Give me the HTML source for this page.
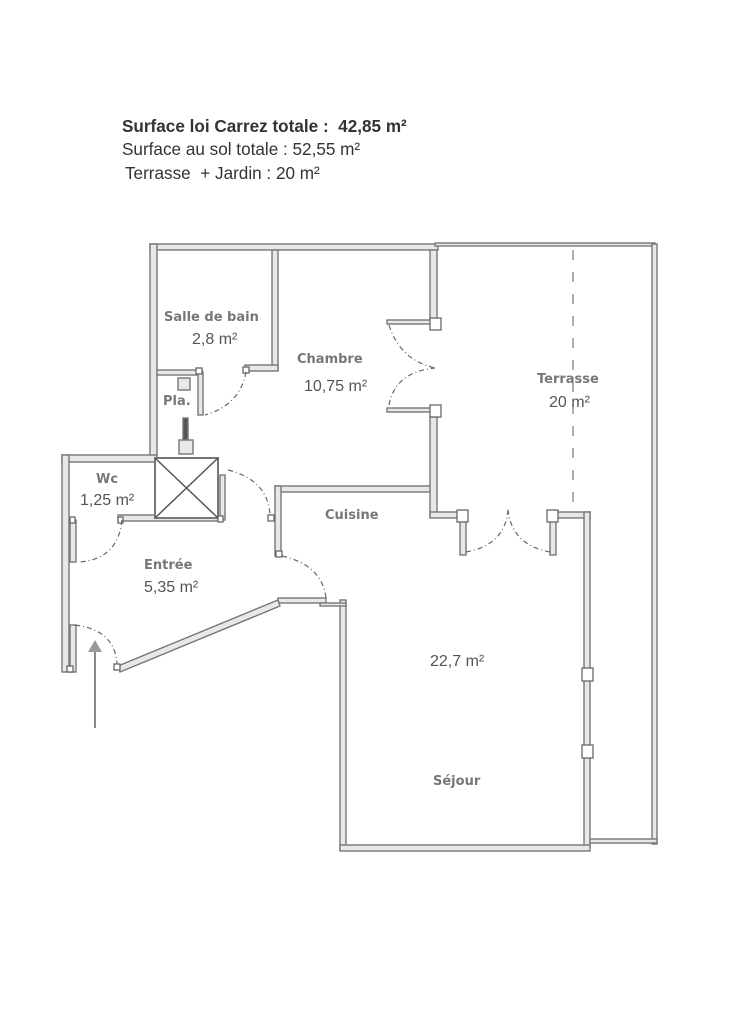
<!DOCTYPE html>
<html><head><meta charset="utf-8"><style>
html,body{margin:0;padding:0;background:#fff;width:750px;height:1032px;overflow:hidden}
svg{display:block}
.h{font-family:"Liberation Sans",sans-serif;fill:#333}
.r{font-family:"DejaVu Sans","Liberation Sans",sans-serif;font-weight:bold;fill:#777;font-size:13px}
.a{font-family:"Liberation Sans",sans-serif;fill:#555;font-size:16px}
</style></head><body>
<svg width="750" height="1032" viewBox="0 0 750 1032">
<g class="h">
<text x="122" y="132" font-size="17.5" font-weight="bold" xml:space="preserve" transform="translate(122 0) scale(0.98 1) translate(-122 0)">Surface loi Carrez totale :  42,85 m²</text>
<text x="122" y="155" font-size="17.5" transform="translate(122 0) scale(0.98 1) translate(-122 0)">Surface au sol totale : 52,55 m²</text>
<text x="125" y="179" font-size="17.5" xml:space="preserve" transform="translate(125 0) scale(0.98 1) translate(-125 0)">Terrasse  + Jardin : 20 m²</text>
</g>
<g fill="#e8e8e8" stroke="#777" stroke-width="1.4">
<rect x="150" y="244" width="288" height="6"/>
<rect x="435" y="243" width="220" height="3"/>
<rect x="150" y="244" width="7" height="216"/>
<rect x="272" y="250" width="6" height="120"/>
<rect x="245" y="365" width="33" height="6"/>
<rect x="157" y="370" width="45" height="5"/>
<rect x="198" y="372" width="5" height="43"/>
<rect x="178" y="378" width="12" height="12"/>
<rect x="183" y="418" width="5" height="22" fill="#555"/>
<rect x="179" y="440" width="14" height="14"/>
<rect x="62" y="455" width="95" height="7"/>
<rect x="62" y="455" width="7" height="217"/>
<rect x="118" y="515" width="100" height="6"/>
<rect x="155" y="458" width="63" height="60" fill="#fff" stroke-width="2"/>
<rect x="220" y="475" width="5" height="45"/>
<rect x="70" y="520" width="6" height="42"/>
<rect x="70" y="625" width="6" height="47"/>
<rect x="275" y="486" width="160" height="6"/>
<rect x="275" y="486" width="6" height="70"/>
<rect x="430" y="250" width="7" height="70"/>
<rect x="387" y="320" width="45" height="4"/>
<rect x="387" y="408" width="45" height="4"/>
<rect x="430" y="417" width="7" height="100"/>
<rect x="430" y="512" width="35" height="6"/>
<rect x="460" y="520" width="6" height="35"/>
<rect x="550" y="520" width="6" height="35"/>
<rect x="556" y="512" width="34" height="6"/>
<rect x="584" y="512" width="6" height="335"/>
<rect x="340" y="600" width="6" height="250"/>
<rect x="340" y="845" width="250" height="6"/>
<rect x="652" y="244" width="5" height="600"/>
<rect x="590" y="839" width="67" height="4"/>
<rect x="278" y="598" width="48" height="5"/>
<rect x="320" y="603" width="26" height="3"/>
<polygon points="118,666 278,600 280,606 120,672"/>
</g>
<g fill="#fff" stroke="#666" stroke-width="1.3">
<rect x="430" y="318" width="11" height="12"/><rect x="430" y="405" width="11" height="12"/>
<rect x="457" y="510" width="11" height="12"/><rect x="547" y="510" width="11" height="12"/>
<rect x="582" y="668" width="11" height="13"/><rect x="582" y="745" width="11" height="13"/>
<rect x="196" y="368" width="6" height="6"/><rect x="243" y="367" width="6" height="6"/>
<rect x="70" y="517" width="5" height="6"/><rect x="118" y="517" width="5" height="6"/>
<rect x="218" y="516" width="5" height="6"/><rect x="268" y="515" width="6" height="6"/>
<rect x="276" y="551" width="6" height="6"/><rect x="114" y="664" width="6" height="6"/>
<rect x="67" y="666" width="6" height="6"/>
</g>
<g stroke="#555" stroke-width="1.5"><line x1="155" y1="458" x2="218" y2="518"/><line x1="218" y1="458" x2="155" y2="518"/></g>
<g fill="none" stroke="#666" stroke-width="1.2" stroke-dasharray="5,3,1,3">
<path d="M246 372 Q240 405 205 415"/>
<path d="M122 520 Q118 560 78 562"/>
<path d="M228 470 Q268 480 270 515"/>
<path d="M282 556 Q322 565 326 598"/>
<path d="M75 625 Q115 630 117 664"/>
<path d="M389 325 Q400 360 435 368"/>
<path d="M389 405 Q395 372 435 368"/>
<path d="M466 552 Q505 545 508 510"/>
<path d="M550 552 Q512 545 508 510"/>
</g>
<line x1="573" y1="250" x2="573" y2="510" stroke="#777" stroke-width="1.2" stroke-dasharray="10,12"/>
<line x1="95" y1="650" x2="95" y2="728" stroke="#888" stroke-width="2"/>
<polygon points="88,652 95,640 102,652" fill="#999"/>
<text class="r" x="164" y="321">Salle de bain</text>
<text class="a" x="192" y="344">2,8 m²</text>
<text class="r" x="297" y="363">Chambre</text>
<text class="a" x="304" y="391">10,75 m²</text>
<text class="r" x="163" y="405">Pla.</text>
<text class="r" x="96" y="483">Wc</text>
<text class="a" x="80" y="505">1,25 m²</text>
<text class="r" x="325" y="519">Cuisine</text>
<text class="r" x="144" y="569">Entrée</text>
<text class="a" x="144" y="592">5,35 m²</text>
<text class="r" x="537" y="383">Terrasse</text>
<text class="a" x="549" y="407">20 m²</text>
<text class="a" x="430" y="666">22,7 m²</text>
<text class="r" x="433" y="785">Séjour</text>
</svg>
</body></html>
